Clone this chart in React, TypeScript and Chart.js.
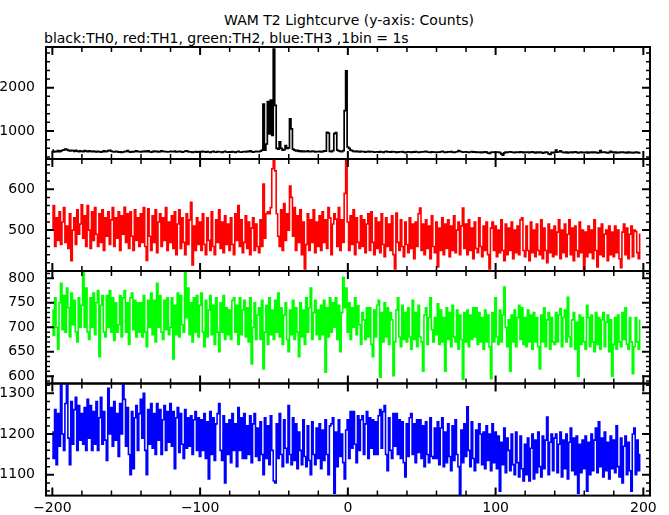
import React, { useEffect, useRef } from "react";
import { Chart, registerables } from "chart.js";

Chart.register(...registerables);

const TITLE = "WAM T2 Lightcurve (y-axis: Counts)";
const SUBTITLE = "black:TH0, red:TH1, green:TH2, blue:TH3 ,1bin = 1s";

// time of the first 1 s bin; bins follow one per second
const T_START = -200;

// TH0 counts per bin (black)
const TH0 = [
  560,515,530,520,545,525,540,555,565,580,570,550,540,555,545,530,550,535,525,540,
  530,520,545,535,525,540,530,520,535,525,515,530,520,510,525,540,520,530,545,550,
  535,520,515,530,525,510,520,505,515,525,530,545,520,510,525,515,530,540,520,525,
  515,530,520,535,525,540,520,510,525,535,520,530,515,525,540,530,520,525,515,520,
  530,520,525,535,515,520,530,525,510,520,535,540,525,515,520,505,515,525,510,520,
  525,515,530,520,510,525,515,505,520,530,515,510,525,520,515,505,520,530,515,510,
  520,510,525,515,505,520,530,515,510,520,525,515,530,520,540,525,510,520,530,525,
  520,535,560,1620,560,700,1680,930,1715,900,2890,1590,600,580,750,600,560,570,660,600,
  610,1280,1050,580,560,540,550,530,540,525,535,520,530,540,525,520,535,530,515,525,
  520,530,515,525,540,535,970,950,530,520,545,940,960,560,540,530,525,545,1470,2390,
  630,600,560,545,530,520,535,525,515,530,520,525,510,520,530,515,525,520,510,515,
  520,510,525,515,505,520,530,515,520,510,525,515,520,505,510,520,515,525,510,500,
  510,520,515,505,520,510,525,515,505,510,520,515,525,530,515,510,505,520,510,515,
  505,515,510,520,530,515,505,510,520,515,525,510,505,515,520,545,530,520,510,515,
  520,510,505,515,525,510,520,505,515,510,500,515,505,520,510,490,480,505,515,510,
  505,515,510,500,470,440,495,510,505,515,520,510,505,500,515,510,505,520,510,500,
  510,505,515,500,510,520,505,495,510,500,515,505,490,500,510,505,470,460,505,495,
  505,560,510,520,540,515,505,500,510,495,505,515,500,510,520,505,495,505,510,500,
  505,500,510,495,505,515,500,510,505,495,500,545,505,515,510,500,495,505,530,510,
  500,510,495,505,500,510,515,500,505,495,510,500,505,495,500,510,505,495,500,
];

// TH1 counts per bin (red)
const TH1 = [
  505,560,460,530,475,545,465,520,555,470,510,455,540,425,500,530,465,550,490,515,
  562,480,535,460,560,500,455,545,475,555,490,460,540,470,550,450,530,485,545,465,
  525,555,460,530,480,545,450,535,490,556,470,540,455,545,485,450,550,475,530,460,
  540,470,555,460,426,552,485,450,535,470,550,445,520,540,460,530,475,555,450,520,
  470,535,455,545,440,515,550,455,530,470,440,540,465,525,568,415,510,450,530,465,
  520,450,540,465,440,530,475,450,545,460,440,525,470,550,455,520,445,535,465,515,
  450,530,465,440,540,475,560,460,525,445,470,535,455,520,440,505,530,450,515,460,
  445,525,460,613,480,540,545,540,555,650,672,645,540,485,460,550,450,565,475,540,
  500,608,580,485,555,450,535,470,550,440,520,405,465,540,450,525,470,550,445,520,
  460,535,450,545,470,525,455,555,530,440,515,540,527,460,555,450,525,470,590,672,
  520,450,535,465,550,440,530,470,455,535,460,525,445,515,540,450,545,470,440,530,
  455,520,445,540,465,435,530,460,515,450,535,440,405,542,470,450,525,460,435,520,
  465,445,530,455,515,430,520,460,540,554,450,515,440,525,455,510,430,535,460,445,
  520,410,505,450,530,440,515,455,525,435,510,450,535,445,500,520,440,510,554,455,
  515,440,525,450,505,430,520,455,445,530,460,435,510,450,520,440,405,505,520,450,
  510,435,500,445,525,450,425,515,440,505,450,520,430,500,445,510,440,525,530,450,
  435,510,450,425,520,445,500,435,515,450,440,525,430,505,450,420,515,445,500,435,
  510,440,495,525,430,500,445,515,435,490,525,440,505,425,510,450,435,520,445,500,
  400,495,435,510,445,500,430,525,450,410,505,440,515,435,490,500,425,510,440,495,
  435,510,445,500,430,408,495,515,440,505,430,490,510,435,500,497,445,430,490,
];

// TH2 counts per bin (green)
const TH2 = [
  735,683,760,700,655,750,790,695,765,690,780,740,680,770,705,755,690,670,760,700,
  745,812,700,780,690,675,760,700,770,685,750,775,640,745,765,690,680,765,700,775,
  690,760,673,750,690,705,765,680,760,775,690,750,665,760,770,695,755,680,750,690,
  750,680,765,690,660,755,700,770,685,755,670,790,700,765,690,675,755,695,760,685,
  700,760,635,745,685,770,680,765,705,690,812,720,780,685,750,670,760,690,765,680,
  745,770,690,660,755,680,735,765,685,745,665,760,690,650,750,690,765,675,740,685,
  735,675,755,760,690,745,665,760,685,735,755,680,740,670,760,625,700,750,675,725,
  740,675,755,615,690,745,665,760,685,735,675,755,690,770,680,740,665,725,750,675,
  650,735,685,755,675,740,690,640,750,680,735,665,760,690,740,780,675,730,755,685,
  735,675,745,685,755,608,740,680,760,690,750,700,760,675,745,650,730,802,740,780,
  690,750,675,740,700,760,685,744,705,665,730,715,675,740,680,740,665,640,735,680,
  745,755,598,730,670,750,680,740,665,730,715,601,670,735,760,680,660,745,675,730,
  670,740,680,655,755,675,730,660,745,680,670,610,725,740,665,720,760,695,670,720,
  685,748,665,735,670,720,610,740,675,730,660,745,680,670,735,655,725,675,594,730,
  670,735,660,725,675,740,680,740,665,730,670,720,655,735,670,725,660,595,730,670,
  760,680,665,735,670,725,782,700,660,715,610,725,670,735,660,720,745,675,740,665,
  720,660,735,670,725,655,730,670,720,660,615,725,670,740,660,715,730,655,720,670,
  665,730,670,725,738,660,720,735,670,761,680,660,715,730,655,710,600,725,665,720,
  670,655,745,720,660,725,670,650,730,665,720,655,715,730,660,710,725,650,715,600,
  665,720,655,725,670,660,730,675,740,665,655,720,670,605,660,720,670,655,714,
];

// TH3 counts per bin (blue)
const TH3 = [
  1205,1140,1260,1125,1250,1170,1320,1200,1160,1275,1320,1190,1125,1280,1175,1260,1290,1160,1270,1185,
  1250,1175,1265,1160,1285,1190,1270,1160,1255,1175,1280,1160,1240,1290,1175,1255,1185,1135,1312,1200,
  1265,1170,1280,1185,1250,1145,1275,1200,1322,1285,1170,1265,1150,1100,1255,1115,1240,1270,1160,1250,
  1285,1190,1300,1160,1100,1260,1175,1275,1165,1250,1150,1275,1185,1260,1150,1235,1270,1160,1255,1180,
  1275,1170,1255,1115,1240,1265,1155,1250,1175,1140,1260,1165,1240,1170,1245,1150,1235,1255,1160,1240,
  1145,1235,1160,1250,1140,1230,1090,1255,1150,1240,1135,1225,1250,1275,1160,1135,1245,1080,1225,1150,
  1235,1130,1250,1160,1225,1120,1265,1160,1240,1140,1250,1140,1220,1150,1245,1130,1225,1250,1145,1215,
  1135,1230,1150,1100,1240,1140,1220,1125,1245,1160,1085,1080,1225,1140,1250,1150,1120,1235,1165,1130,
  1270,1150,1125,1240,1135,1225,1115,1205,1160,1125,1235,1145,1120,1220,1135,1100,1230,1150,1125,1215,
  1140,1225,1115,1210,1135,1235,1150,1100,1220,1225,1240,1055,1205,1120,1235,1145,1200,1130,1090,1210,
  1235,1140,1255,1165,1255,1175,1130,1245,1160,1235,1245,1150,1225,1255,1140,1240,1165,1235,1150,1230,
  1150,1245,1260,1165,1255,1270,1150,1110,1240,1160,1140,1250,1170,1250,1150,1235,1140,1230,1130,1095,
  1225,1145,1240,1250,1150,1225,1130,1235,1155,1235,1140,1220,1120,1230,1150,1130,1240,1145,1140,1215,
  1140,1230,1125,1215,1240,1120,1205,1130,1225,1145,1110,1220,1135,1235,1150,1120,1050,1210,1130,1225,
  1145,1267,1160,1120,1230,1140,1110,1210,1130,1225,1200,1125,1205,1115,1220,1135,1200,1110,1225,1130,
  1205,1115,1195,1060,1180,1125,1215,1105,1190,1160,1110,1200,1125,1100,1205,1130,1095,1195,1115,1085,
  1175,1100,1190,1085,1165,1200,1090,1185,1105,1205,1120,1095,1195,1115,1185,1242,1100,1180,1200,1110,
  1190,1200,1105,1175,1205,1095,1185,1115,1200,1090,1180,1215,1110,1190,1100,1195,1055,1175,1105,1185,
  1115,1195,1060,1180,1100,1200,1110,1185,1215,1105,1230,1120,1190,1095,1205,1110,1180,1090,1195,1115,
  1185,1105,1220,1120,1095,1190,1080,1170,1195,1100,1180,1110,1060,1200,1215,1100,1185,1110,1150,
];

// axis ticks
const X_TICKS = [-200, -100, 0, 100, 200];
const X_MINOR_STEP = 20;
const TH0_TICKS = [1000, 2000];
const TH1_TICKS = [500, 600];
const TH2_TICKS = [600, 650, 700, 750, 800];
const TH3_TICKS = [1100, 1200, 1300];

const W = 669;
const H = 515;
const FONT = { family: '"DejaVu Sans", sans-serif', size: 14 };

type Panel = {
  data: number[];
  color: string;
  width: number;
  min: number;
  max: number;
  ticks: number[];
  minor: number;
  top: number;
  bottom: number;
  showX: boolean;
};

const PANELS: Panel[] = [
  { data: TH0, color: "#000000", width: 1.7, min: 353, max: 2940, ticks: TH0_TICKS, minor: 200, top: 47, bottom: 159, showX: false },
  { data: TH1, color: "#ff0000", width: 1.6, min: 400, max: 674, ticks: TH1_TICKS, minor: 20, top: 159, bottom: 271, showX: false },
  { data: TH2, color: "#00ff00", width: 1.6, min: 585, max: 815, ticks: TH2_TICKS, minor: 10, top: 271, bottom: 383.5, showX: false },
  { data: TH3, color: "#0000ff", width: 1.6, min: 1049, max: 1324, ticks: TH3_TICKS, minor: 20, top: 383.5, bottom: 496, showX: true },
];

function framePlugin(p: Panel) {
  return {
    id: "frame",
    afterDraw(chart: any) {
      const { ctx, chartArea: a, scales } = chart;
      const xs = scales.x;
      const ys = scales.y;
      ctx.save();
      ctx.strokeStyle = "#000";
      ctx.lineWidth = 2;
      ctx.strokeRect(a.left, a.top, a.right - a.left, a.bottom - a.top);
      // x ticks on top and bottom, pointing inward
      for (let v = X_TICKS[0]; v <= X_TICKS[X_TICKS.length - 1]; v += X_MINOR_STEP) {
        const px = xs.getPixelForValue(v);
        const major = X_TICKS.includes(v);
        const len = major ? 8 : 5;
        ctx.lineWidth = major ? 2 : 1.5;
        ctx.beginPath();
        ctx.moveTo(px, a.top);
        ctx.lineTo(px, a.top + len);
        ctx.moveTo(px, a.bottom);
        ctx.lineTo(px, a.bottom - len);
        ctx.stroke();
      }
      // y ticks left and right, pointing inward
      const start = Math.ceil(p.min / p.minor) * p.minor;
      for (let v = start; v <= p.max; v += p.minor) {
        const py = ys.getPixelForValue(v);
        const major = p.ticks.includes(v);
        const len = major ? 8 : 4;
        ctx.lineWidth = major ? 2 : 1.5;
        ctx.beginPath();
        ctx.moveTo(a.left, py);
        ctx.lineTo(a.left + len, py);
        ctx.moveTo(a.right, py);
        ctx.lineTo(a.right - len, py);
        ctx.stroke();
      }
      ctx.restore();
    },
  };
}

function makeConfig(p: Panel): any {
  const points = p.data.map((y, i) => ({ x: T_START + i, y }));
  return {
    type: "line",
    data: {
      datasets: [
        {
          data: points,
          borderColor: p.color,
          borderWidth: p.width,
          pointRadius: 0,
          stepped: "middle",
          fill: false,
        },
      ],
    },
    options: {
      animation: false,
      responsive: false,
      events: [],
      layout: {
        padding: { left: 0, right: W - 650, top: p.top, bottom: p.showX ? 0 : H - p.bottom },
      },
      plugins: {
        legend: { display: false },
        tooltip: { enabled: false },
        title: { display: false },
      },
      scales: {
        x: {
          type: "linear",
          min: -204.3,
          max: 204.5,
          display: p.showX,
          grid: { display: false, drawTicks: false },
          border: { display: false },
          afterBuildTicks: (s: any) => {
            s.ticks = X_TICKS.map((v) => ({ value: v }));
          },
          afterFit: (s: any) => {
            s.height = p.showX ? H - p.bottom : 0;
          },
          ticks: {
            padding: 4,
            color: "#000",
            font: FONT,
            autoSkip: false,
            maxRotation: 0,
            callback: (v: any) => String(v).replace("-", "\u2212"),
          },
        },
        y: {
          type: "linear",
          min: p.min,
          max: p.max,
          grid: { display: false, drawTicks: false },
          border: { display: false },
          afterBuildTicks: (s: any) => {
            s.ticks = p.ticks.map((v) => ({ value: v }));
          },
          afterFit: (s: any) => {
            s.width = 46;
          },
          ticks: {
            padding: 11,
            color: "#000",
            font: FONT,
            autoSkip: false,
            callback: (v: any) => String(v),
          },
        },
      },
    },
    plugins: [framePlugin(p)],
  };
}

export default function App() {
  const r0 = useRef<HTMLCanvasElement>(null);
  const r1 = useRef<HTMLCanvasElement>(null);
  const r2 = useRef<HTMLCanvasElement>(null);
  const r3 = useRef<HTMLCanvasElement>(null);
  const refs = [r0, r1, r2, r3];

  useEffect(() => {
    const charts = PANELS.map((p, i) => new Chart(refs[i].current as HTMLCanvasElement, makeConfig(p)));
    return () => charts.forEach((c) => c.destroy());
  }, []);

  return (
    <div
      style={{
        position: "absolute",
        left: 0,
        top: 0,
        width: W,
        height: H,
        background: "#fff",
        fontFamily: '"DejaVu Sans", sans-serif',
        color: "#000",
        overflow: "hidden",
      }}
    >
      <div
        style={{
          position: "absolute",
          left: 49,
          width: 600,
          top: 12,
          textAlign: "center",
          fontSize: 14,
          lineHeight: "16px",
          whiteSpace: "nowrap",
        }}
      >
        {TITLE}
      </div>
      <div
        style={{
          position: "absolute",
          left: 44,
          top: 30,
          fontSize: 14,
          lineHeight: "16px",
          whiteSpace: "nowrap",
        }}
      >
        {SUBTITLE}
      </div>
      {refs.map((r, i) => (
        <canvas
          key={i}
          ref={r}
          width={W}
          height={H}
          style={{ position: "absolute", left: 0, top: 0 }}
        />
      ))}
    </div>
  );
}
